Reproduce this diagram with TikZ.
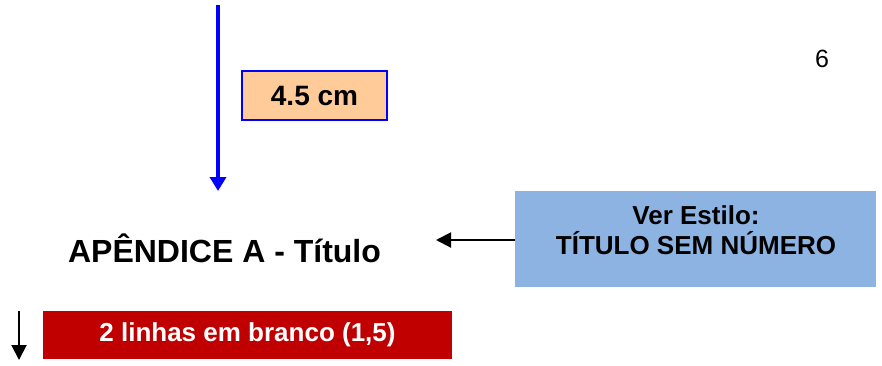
\documentclass[tikz,border=0pt]{standalone}
\usepackage{fontspec}
\setmainfont{Liberation Sans}
\usetikzlibrary{arrows.meta}
\definecolor{orangefill}{HTML}{FFCC99}
\definecolor{bluebox}{HTML}{8DB3E2}
\definecolor{darkred}{HTML}{C00000}
\definecolor{pureblue}{HTML}{0000FF}
\tikzset{
  px/.style={x=1pt,y=-1pt},
  boxtext/.style={font=\bfseries\fontsize{#1}{#1}\selectfont, align=center},
  blackarrow/.style={black, line width=2pt, -{Triangle[width=15pt,length=15pt]}},
}
\begin{document}
\begin{tikzpicture}[px]
\useasboundingbox (0,0) rectangle (882,365);
% blue vertical arrow
\coordinate (ba) at (218,5);
\coordinate (bb) at (218,191);
\draw[pureblue, line width=3.5pt, -{Triangle[width=16pt,length=14pt]}] (ba) -- (bb);
% orange box
\node[draw=pureblue, line width=1.3pt, fill=orangefill, minimum width=145pt, minimum height=49pt, inner sep=0pt, boxtext=28] (len) at (314.5,95.5) {4.5 cm};
% page number
\node[font=\fontsize{25}{25}\selectfont] (pg) at (822,59) {6};
% title
\node[boxtext=32] (title) at (224.5,248) {APÊNDICE A - Título};
% blue style box
\node[fill=bluebox, minimum width=361pt, minimum height=96pt, inner sep=0pt] (style) at (695.5,239) {};
\node[boxtext=26, align=center] (styletext) at (696,230) {Ver Estilo:\\[4pt]TÍTULO SEM NÚMERO};
\coordinate (tarr) at (436,240);
\draw[blackarrow] (style.west |- tarr) -- (tarr);
% red box
\node[fill=darkred, minimum width=409pt, minimum height=48pt, inner sep=0pt, text=white, boxtext=26] (blank) at (247.5,335) {\raisebox{-2pt}{2 linhas em branco (1,5)}};
% small arrow
\coordinate (sa) at (19,311);
\coordinate (sb) at (19,360);
\draw[blackarrow] (sa) -- (sb);
\end{tikzpicture}
\end{document}
